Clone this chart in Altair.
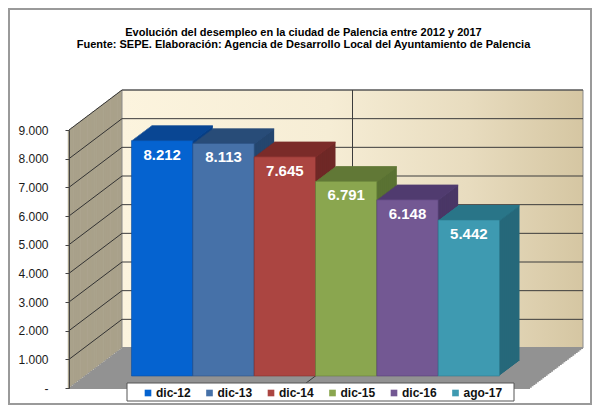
import altair as alt
import pandas as pd

# ---------------- data ----------------
categories = ["dic-12", "dic-13", "dic-14", "dic-15", "dic-16", "ago-17"]
values = [8212, 8113, 7645, 6791, 6148, 5442]
front_colors = ["#0563d0", "#4671a8", "#ab4541", "#8aa64f", "#735893", "#3e9ab1"]
top_colors = ["#0b4d9e", "#2d5283", "#842f2d", "#677f39", "#574177", "#2b7b8e"]
side_colors = ["#083f85", "#24466f", "#6f2826", "#5a7233", "#4a3766", "#26687a"]
tick_values = [0, 1000, 2000, 3000, 4000, 5000, 6000, 7000, 8000, 9000]
title_lines = [
    "Evolución del desempleo en la ciudad de Palencia entre 2012 y 2017",
    "Fuente: SEPE. Elaboración: Agencia de Desarrollo Local del Ayuntamiento de Palencia",
]

# ---------------- layout / style constants ----------------
W, H = 461, 258          # plot area = front plane of the 3D box
DX, DY = 53, 40          # depth of the walls (pixels)
BX, BY = 16, -12         # position of the bars' front faces inside the box
EX, EY = 20, -15         # depth of each bar
PAD_OUTER = 0.758
BAND = W / (len(categories) + 2 * PAD_OUTER)
NL, NF, NB = 30, 30, 15  # sweep steps for wall, floor, bar depth
FONT = "Liberation Sans"

df = pd.DataFrame({
    "cat": categories,
    "v": values,
    "base": [0] * len(values),
    "front": front_colors,
    "top": top_colors,
    "side": side_colors,
})
ticks_df = pd.DataFrame({"tick": tick_values})
inner_ticks = ticks_df[ticks_df["tick"] > 0]
one = pd.DataFrame({"lo": [tick_values[0]], "hi": [tick_values[-1]]})

yscale = alt.Scale(domain=[tick_values[0], tick_values[-1]], nice=False, zero=True)
xscale = alt.Scale(domain=categories, paddingInner=0, paddingOuter=PAD_OUTER)

# one shared y axis definition (front edge of the left wall)
YAX = alt.Axis(
    values=tick_values, title=None, grid=False, zindex=1,
    labelExpr="datum.value == 0 ? '-' : replace(format(datum.value, ','), ',', '.')",
    labelFont=FONT, labelFontSize=12, labelColor="#1a1a1a",
    labelPadding=17, tickSize=4, tickColor="#444444",
    domainColor="#444444", domainWidth=1,
)

X = alt.X("cat:N", scale=xscale, axis=None)

def Yf(field):
    return alt.Y(field, scale=yscale, axis=YAX)

layers = []

# outer frame of the picture
layers.append(
    alt.Chart(one).mark_rect(filled=False, stroke="#9a9a9a", strokeWidth=2).encode(
        x=alt.value(-60), x2=alt.value(522), y=alt.value(-121), y2=alt.value(274)
    )
)

# left wall (swept vertical edge)
for i in range(NL + 1):
    t = i / NL
    layers.append(
        alt.Chart(one).mark_rule(
            color="#a9a18a", strokeWidth=2.4, yOffset=-DY * t, y2Offset=-DY * t
        ).encode(x=alt.value(DX * t), y=Yf("lo:Q"), y2="hi:Q")
    )

# back wall
wall_grad = alt.Gradient(
    gradient="linear",
    stops=[
        alt.GradientStop(offset=0, color="#fcf4de"),
        alt.GradientStop(offset=0.45, color="#f6edd5"),
        alt.GradientStop(offset=0.75, color="#e8dcbf"),
        alt.GradientStop(offset=1, color="#d5c6a2"),
    ],
    x1=0, x2=1, y1=0, y2=0,
)
layers.append(
    alt.Chart(one).mark_rect(
        fill=wall_grad, stroke="#8a8a8a", strokeWidth=1, yOffset=-DY, y2Offset=-DY
    ).encode(x=alt.value(DX), x2=alt.value(DX + W), y=Yf("lo:Q"), y2="hi:Q")
)

# back wall gridlines
layers.append(
    alt.Chart(inner_ticks).mark_rule(color="#3c3c3c", strokeWidth=1, yOffset=-DY).encode(
        x=alt.value(DX), x2=alt.value(DX + W), y=Yf("tick:Q")
    )
)
# vertical line in the middle of the back wall
layers.append(
    alt.Chart(one).mark_rule(color="#3c3c3c", strokeWidth=1, yOffset=-DY, y2Offset=-DY).encode(
        x=alt.value(DX + W / 2), y=Yf("lo:Q"), y2="hi:Q"
    )
)
# left wall gridlines (diagonal)
layers.append(
    alt.Chart(inner_ticks).mark_rule(color="#333333", strokeWidth=1, y2Offset=-DY).encode(
        x=alt.value(0), x2=alt.value(DX), y=Yf("tick:Q"), y2="tick:Q"
    )
)

# floor (swept bottom edge)
for i in range(NF + 1):
    t = i / NF
    layers.append(
        alt.Chart(one).mark_rule(color="#929292", strokeWidth=2, yOffset=-DY * t).encode(
            x=alt.value(DX * t), x2=alt.value(W + DX * t), y=Yf("lo:Q")
        )
    )
# floor line from the middle of the back wall
layers.append(
    alt.Chart(one).mark_rule(color="#3c3c3c", strokeWidth=1, yOffset=-DY, y2Offset=0).encode(
        x=alt.value(DX + W / 2), x2=alt.value(W / 2), y=Yf("lo:Q"), y2="lo:Q"
    )
)

# bar depth (side + top faces), back to front
for i in range(NB, 0, -1):
    t = i / NB
    ox, oy = BX + EX * t, BY + EY * t
    layers.append(
        alt.Chart(df).mark_bar(
            xOffset=ox, x2Offset=ox, yOffset=oy, y2Offset=oy
        ).encode(
            x=X, y=Yf("v:Q"), y2="base:Q",
            fill=alt.Fill("side:N", scale=None),
        )
    )
    layers.append(
        alt.Chart(df).mark_tick(
            size=BAND, thickness=1.4, xOffset=ox, yOffset=oy + 0.7
        ).encode(
            x=X, y=Yf("v:Q"),
            fill=alt.Fill("top:N", scale=None),
        )
    )

# front faces (with legend)
layers.append(
    alt.Chart(df).mark_bar(
        xOffset=BX, x2Offset=BX, yOffset=BY, y2Offset=BY, strokeWidth=0.6
    ).encode(
        x=X,
        y=Yf("v:Q"),
        y2="base:Q",
        stroke=alt.Stroke("top:N", scale=None),
        color=alt.Color(
            "cat:N",
            scale=alt.Scale(domain=categories, range=front_colors),
            legend=alt.Legend(
                title=None, orient="none", legendX=71, legendY=255,
                direction="horizontal", columns=6,
                symbolType="square", symbolSize=44, symbolStrokeWidth=0,
                labelFont=FONT, labelFontSize=12, labelFontWeight="bold",
                labelColor="#111111", labelOffset=2, columnPadding=12.5, padding=2,
            ),
        ),
    )
)

# value labels
layers.append(
    alt.Chart(df).transform_calculate(
        label="replace(format(datum.v, ','), ',', '.')"
    ).mark_text(
        xOffset=BX, yOffset=BY + 14, color="white", font=FONT, fontSize=15,
        fontWeight="bold", baseline="middle", align="center",
    ).encode(x=X, y=Yf("v:Q"), text="label:N")
)

# legend box
layers.append(
    alt.Chart(one).mark_rect(fill="white", stroke="#555555", strokeWidth=1).encode(
        x=alt.value(58), x2=alt.value(445), y=alt.value(253), y2=alt.value(271)
    )
)

chart = alt.layer(*layers).properties(
    width=W, height=H,
    autosize=alt.AutoSizeParams(type="none"),
    padding={"left": 61, "top": 122, "right": 62, "bottom": 17},
    title=alt.TitleParams(
        text=title_lines, font=FONT, fontSize=11, fontWeight="bold", color="black",
        anchor="middle", frame="group", offset=-53, dx=4, lineHeight=12,
        baseline="bottom",
    ),
    background="white",
).configure_view(strokeWidth=0)

chart.save("out.html", embed_options={"renderer": "svg", "actions": False})
